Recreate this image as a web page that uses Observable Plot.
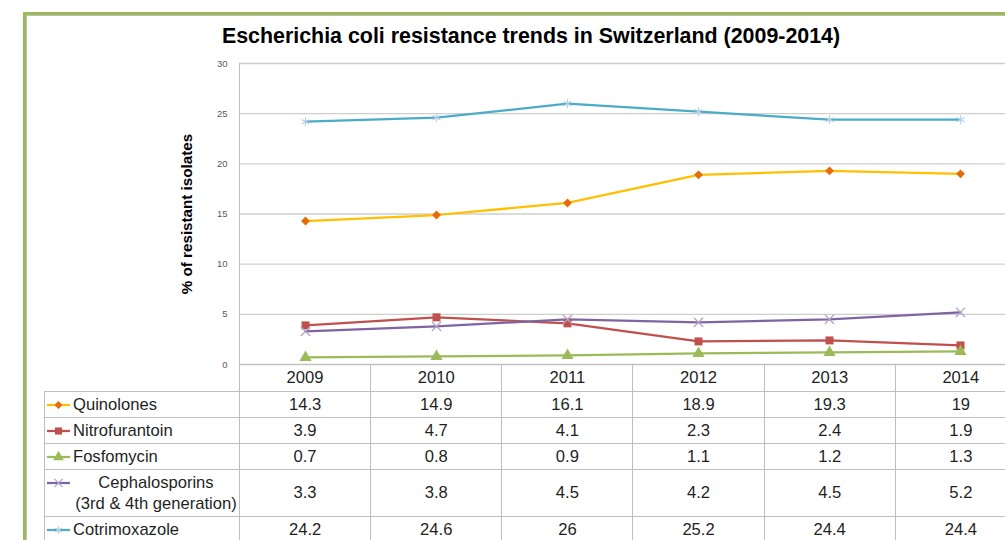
<!DOCTYPE html>
<html><head><meta charset="utf-8">
<script src="https://cdn.jsdelivr.net/npm/d3@7"></script>
<script src="https://cdn.jsdelivr.net/npm/@observablehq/plot@0.6"></script>
<style>
html,body{margin:0;padding:0;background:#fff;}
body{width:1005px;height:540px;overflow:hidden;position:relative;font-family:Arial,"Liberation Sans",sans-serif;}
#chart{position:absolute;left:0;top:0;}
#frame{position:absolute;left:23px;top:12px;width:1200px;height:800px;border-left:3px solid #9bbb59;border-top:3px solid #9bbb59;}
#frame::after{content:"";position:absolute;left:0;top:0;right:0;bottom:0;border-left:1px solid #bfbfbf;border-top:1px solid #bfbfbf;}
#title{position:absolute;left:0;width:1062px;top:26px;text-align:center;font-weight:bold;font-size:21.4px;line-height:21px;color:#000;}
#ylabel{position:absolute;left:37px;top:204px;width:300px;height:20px;line-height:20px;text-align:center;font-weight:bold;font-size:15.2px;color:#000;transform:rotate(-90deg);transform-origin:150px 10px;white-space:nowrap;}
#tbl{position:absolute;left:44px;top:364px;border-collapse:collapse;table-layout:fixed;font-size:16.6px;color:#1f1f1f;}
#tbl td{border:1px solid #bfbfbf;padding:0;text-align:center;vertical-align:middle;white-space:nowrap;}
#tbl td.corner{border-top:none;border-left:none;}
.lab{display:flex;align-items:center;padding-left:1px;}
.lab span{margin-left:1px;text-align:left;}
.lab.multi{align-items:flex-start;}
.lab.multi svg{margin-top:4px;}
.lab.multi span{flex:1;text-align:center;line-height:21px;}
</style></head><body>
<div id="chart"></div>
<div id="frame"></div>
<div id="title">Escherichia coli resistance trends in Switzerland (2009-2014)</div>
<div id="ylabel">% of resistant isolates</div>
<table id="tbl"></table>
<script>
// ---- data ----
const years = ["2009", "2010", "2011", "2012", "2013", "2014"];
const seriesNames = ["Quinolones", "Nitrofurantoin", "Fosfomycin", "Cephalosporins (3rd & 4th generation)", "Cotrimoxazole"];
const quinolones = [14.3, 14.9, 16.1, 18.9, 19.3, 19];
const nitrofurantoin = [3.9, 4.7, 4.1, 2.3, 2.4, 1.9];
const fosfomycin = [0.7, 0.8, 0.9, 1.1, 1.2, 1.3];
const cephalosporins = [3.3, 3.8, 4.5, 4.2, 4.5, 5.2];
const cotrimoxazole = [24.2, 24.6, 26, 25.2, 24.4, 24.4];
const yTicks = [0, 5, 10, 15, 20, 25, 30];

// ---- styles ----
const seriesValues = [quinolones, nitrofurantoin, fosfomycin, cephalosporins, cotrimoxazole];
const lineColors = ["#ffc000", "#c0504d", "#9bbb59", "#8064a2", "#4bacc6"];
const markerColors = ["#e46c0a", "#c0504d", "#9bbb59", "#b3a2c7", "#b9cde5"];
const symbols = ["diamond2", "square", "triangle", "times", "asterisk"];
const d3Symbols = {diamond2: d3.symbolDiamond2, square: d3.symbolSquare, triangle: d3.symbolTriangle, times: d3.symbolTimes, asterisk: d3.symbolAsterisk};
const strokeSymbols = new Set(["times", "asterisk"]);
const markerR = [4, 4.5, 4.5, 4.3, 4.3];

const W = 1005, H = 540;
const xRange = [239, 1026];
const step = (xRange[1] - xRange[0]) / years.length;

const rows = seriesNames.map((name, s) => years.map((year, i) => ({series: name, year, value: seriesValues[s][i]})));

const marks = [
  Plot.ruleY(yTicks, {stroke: "#cfcfcf", strokeWidth: 1.4}),
  Plot.frame({anchor: "left", stroke: "#bfbfbf"}),
  Plot.text(yTicks, {y: d => d, text: d => String(d), frameAnchor: "left", dx: -12, textAnchor: "end", fill: "#595959", fontSize: 9.5})
];
rows.forEach((r, s) => {
  marks.push(Plot.line(r, {x: "year", y: "value", stroke: lineColors[s], strokeWidth: 2.25, strokeLinejoin: "round"}));
});
rows.forEach((r, s) => {
  const sym = symbols[s];
  if (strokeSymbols.has(sym)) {
    marks.push(Plot.dot(r, {x: "year", y: "value", symbol: sym, r: markerR[s], stroke: markerColors[s], fill: "none", strokeWidth: 1.2}));
  } else {
    marks.push(Plot.dot(r, {x: "year", y: "value", symbol: sym, r: markerR[s], fill: markerColors[s], stroke: "none"}));
  }
});

const chart = Plot.plot({
  width: W, height: H,
  marginTop: 63, marginBottom: H - 364, marginLeft: 239, marginRight: 0,
  style: {fontFamily: "Arial, 'Liberation Sans', sans-serif", background: "transparent", overflow: "hidden"},
  x: {type: "point", domain: years, range: xRange, padding: 0.5, axis: null},
  y: {domain: [0, 30], axis: null},
  marks
});
document.getElementById("chart").append(chart);

// ---- data table ----
function swatch(s) {
  const ns = "http://www.w3.org/2000/svg";
  const svg = document.createElementNS(ns, "svg");
  svg.setAttribute("width", 26); svg.setAttribute("height", 14);
  svg.style.flex = "none";
  const line = document.createElementNS(ns, "line");
  line.setAttribute("x1", 1); line.setAttribute("x2", 24); line.setAttribute("y1", 7); line.setAttribute("y2", 7);
  line.setAttribute("stroke", lineColors[s]); line.setAttribute("stroke-width", 2.25);
  svg.append(line);
  const path = document.createElementNS(ns, "path");
  const size = Math.PI * markerR[s] * markerR[s] * 0.8;
  path.setAttribute("d", d3.symbol(d3Symbols[symbols[s]], size)());
  path.setAttribute("transform", "translate(12.5,7)");
  if (strokeSymbols.has(symbols[s])) {
    path.setAttribute("fill", "none"); path.setAttribute("stroke", markerColors[s]); path.setAttribute("stroke-width", 1.2);
  } else {
    path.setAttribute("fill", markerColors[s]);
  }
  svg.append(path);
  return svg;
}
const tbl = document.getElementById("tbl");
const cg = document.createElement("colgroup");
const c0 = document.createElement("col"); c0.style.width = (xRange[0] - 44) + "px"; cg.append(c0);
years.forEach(() => { const c = document.createElement("col"); c.style.width = step + "px"; cg.append(c); });
tbl.append(cg);
tbl.style.width = (xRange[0] - 44 + step * years.length) + "px";
const rowHeights = [26, 26, 26, 47, 26];
const hr = document.createElement("tr"); hr.style.height = "27px";
const corner = document.createElement("td"); corner.className = "corner"; hr.append(corner);
years.forEach(y => { const td = document.createElement("td"); td.textContent = y; hr.append(td); });
tbl.append(hr);
seriesNames.forEach((name, s) => {
  const tr = document.createElement("tr"); tr.style.height = rowHeights[s] + "px";
  const td = document.createElement("td");
  const lab = document.createElement("div");
  const multi = name.includes("(");
  lab.className = "lab" + (multi ? " multi" : "");
  lab.append(swatch(s));
  const span = document.createElement("span");
  if (multi) {
    const k = name.indexOf(" (");
    span.append(name.slice(0, k), document.createElement("br"), name.slice(k + 1));
  } else span.textContent = name;
  lab.append(span);
  td.append(lab); tr.append(td);
  seriesValues[s].forEach(v => { const c = document.createElement("td"); c.textContent = String(v); tr.append(c); });
  tbl.append(tr);
});
</script>
</body></html>
